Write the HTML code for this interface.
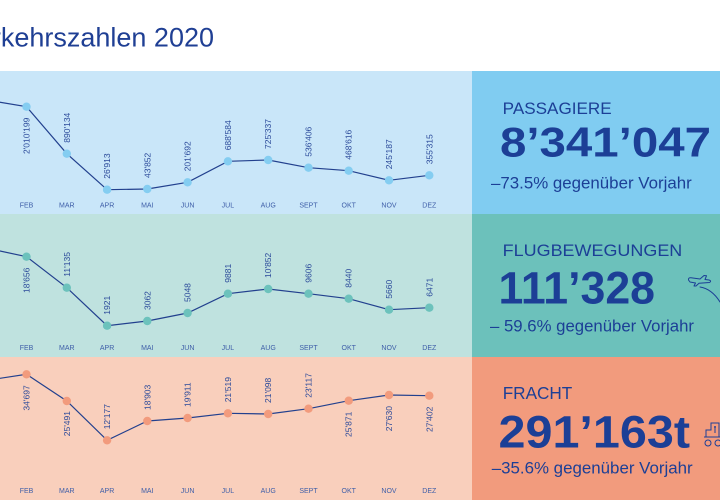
<!DOCTYPE html>
<html><head><meta charset="utf-8"><style>
html,body{margin:0;padding:0;background:#fff;}
svg{display:block;}
text{font-family:"Liberation Sans",sans-serif;}
.lb{font-size:8.5px;fill:#2b4a9a;}
.mo{font-size:7px;fill:#3e5ea8;text-anchor:middle;}
.ln{fill:none;stroke:#22408e;stroke-width:1.2;}
</style></head><body>
<svg width="720" height="500" viewBox="0 0 720 500" xmlns="http://www.w3.org/2000/svg">
<rect x="0" y="0" width="720" height="500" fill="#ffffff"/>
<text x="214" y="46.7" font-size="27" fill="#1f3f94" text-anchor="end">Verkehrszahlen 2020</text>

<!-- panels -->
<rect x="0" y="71" width="472" height="143" fill="#c9e6f9"/>
<rect x="472" y="71" width="248" height="143" fill="#80ccf1"/>
<rect x="0" y="214" width="472" height="143" fill="#bfe2df"/>
<rect x="472" y="214" width="248" height="143" fill="#6cc1bb"/>
<rect x="0" y="357" width="472" height="143" fill="#f9cfbc"/>
<rect x="472" y="357" width="248" height="143" fill="#f29b7d"/>

<!-- Panel 1 -->
<polyline class="ln" points="-13.8,100 26.5,106.7 66.8,153.7 107.1,189.7 147.3,189 187.6,182.3 227.9,161.3 268.2,160 308.5,167.7 348.7,170.7 389,180.3 429.3,175.3"/>
<g fill="#84cdf1">
<circle cx="26.5" cy="106.7" r="4.2"/><circle cx="66.8" cy="153.7" r="4.2"/><circle cx="107.1" cy="189.7" r="4.2"/><circle cx="147.3" cy="189" r="4.2"/><circle cx="187.6" cy="182.3" r="4.2"/><circle cx="227.9" cy="161.3" r="4.2"/><circle cx="268.2" cy="160" r="4.2"/><circle cx="308.5" cy="167.7" r="4.2"/><circle cx="348.7" cy="170.7" r="4.2"/><circle cx="389" cy="180.3" r="4.2"/><circle cx="429.3" cy="175.3" r="4.2"/>
</g>
<g class="lb">
<text transform="translate(29.5,117.7) rotate(-90)" text-anchor="end">2'010'199</text>
<text transform="translate(69.8,142.7) rotate(-90)">890'134</text>
<text transform="translate(110.1,178.7) rotate(-90)">26'913</text>
<text transform="translate(150.3,178) rotate(-90)">43'852</text>
<text transform="translate(190.6,171.3) rotate(-90)">201'692</text>
<text transform="translate(230.9,150.3) rotate(-90)">688'584</text>
<text transform="translate(271.2,149) rotate(-90)">725'337</text>
<text transform="translate(311.5,156.7) rotate(-90)">536'406</text>
<text transform="translate(351.7,159.7) rotate(-90)">468'616</text>
<text transform="translate(392,169.3) rotate(-90)">245'187</text>
<text transform="translate(432.3,164.3) rotate(-90)">355'315</text>
</g>
<g class="mo">
<text x="26.5" y="207.5">FEB</text><text x="66.8" y="207.5">MAR</text><text x="107.1" y="207.5">APR</text><text x="147.3" y="207.5">MAI</text><text x="187.6" y="207.5">JUN</text><text x="227.9" y="207.5">JUL</text><text x="268.2" y="207.5">AUG</text><text x="308.5" y="207.5">SEPT</text><text x="348.7" y="207.5">OKT</text><text x="389" y="207.5">NOV</text><text x="429.3" y="207.5">DEZ</text>
</g>

<!-- Panel 2 -->
<polyline class="ln" points="-13.8,248 26.5,256.7 66.8,287.7 107.1,325.7 147.3,321 187.6,313 227.9,293.7 268.2,289 308.5,293.7 348.7,298.7 389,309.7 429.3,307.7"/>
<g fill="#6cc2bc">
<circle cx="26.5" cy="256.7" r="4.2"/><circle cx="66.8" cy="287.7" r="4.2"/><circle cx="107.1" cy="325.7" r="4.2"/><circle cx="147.3" cy="321" r="4.2"/><circle cx="187.6" cy="313" r="4.2"/><circle cx="227.9" cy="293.7" r="4.2"/><circle cx="268.2" cy="289" r="4.2"/><circle cx="308.5" cy="293.7" r="4.2"/><circle cx="348.7" cy="298.7" r="4.2"/><circle cx="389" cy="309.7" r="4.2"/><circle cx="429.3" cy="307.7" r="4.2"/>
</g>
<g class="lb">
<text transform="translate(29.5,267.7) rotate(-90)" text-anchor="end">18'656</text>
<text transform="translate(69.8,276.7) rotate(-90)">11'135</text>
<text transform="translate(110.1,314.7) rotate(-90)">1921</text>
<text transform="translate(150.3,310) rotate(-90)">3062</text>
<text transform="translate(190.6,302) rotate(-90)">5048</text>
<text transform="translate(230.9,282.7) rotate(-90)">9881</text>
<text transform="translate(271.2,278) rotate(-90)">10'852</text>
<text transform="translate(311.5,282.7) rotate(-90)">9606</text>
<text transform="translate(351.7,287.7) rotate(-90)">8440</text>
<text transform="translate(392,298.7) rotate(-90)">5660</text>
<text transform="translate(432.3,296.7) rotate(-90)">6471</text>
</g>
<g class="mo">
<text x="26.5" y="350.2">FEB</text><text x="66.8" y="350.2">MAR</text><text x="107.1" y="350.2">APR</text><text x="147.3" y="350.2">MAI</text><text x="187.6" y="350.2">JUN</text><text x="227.9" y="350.2">JUL</text><text x="268.2" y="350.2">AUG</text><text x="308.5" y="350.2">SEPT</text><text x="348.7" y="350.2">OKT</text><text x="389" y="350.2">NOV</text><text x="429.3" y="350.2">DEZ</text>
</g>

<!-- Panel 3 -->
<polyline class="ln" points="-13.8,380.4 26.5,374.3 66.8,401 107.1,440.3 147.3,421 187.6,418 227.9,413.3 268.2,414 308.5,408.7 348.7,400.7 389,395 429.3,395.7"/>
<g fill="#f29b7d">
<circle cx="26.5" cy="374.3" r="4.2"/><circle cx="66.8" cy="401" r="4.2"/><circle cx="107.1" cy="440.3" r="4.2"/><circle cx="147.3" cy="421" r="4.2"/><circle cx="187.6" cy="418" r="4.2"/><circle cx="227.9" cy="413.3" r="4.2"/><circle cx="268.2" cy="414" r="4.2"/><circle cx="308.5" cy="408.7" r="4.2"/><circle cx="348.7" cy="400.7" r="4.2"/><circle cx="389" cy="395" r="4.2"/><circle cx="429.3" cy="395.7" r="4.2"/>
</g>
<g class="lb">
<text transform="translate(29.5,385.3) rotate(-90)" text-anchor="end">34'697</text>
<text transform="translate(69.8,411) rotate(-90)" text-anchor="end">25'491</text>
<text transform="translate(110.1,429.3) rotate(-90)">12'177</text>
<text transform="translate(150.3,410) rotate(-90)">18'903</text>
<text transform="translate(190.6,407) rotate(-90)">19'911</text>
<text transform="translate(230.9,402.3) rotate(-90)">21'519</text>
<text transform="translate(271.2,403) rotate(-90)">21'098</text>
<text transform="translate(311.5,397.7) rotate(-90)">23'117</text>
<text transform="translate(351.7,411.7) rotate(-90)" text-anchor="end">25'871</text>
<text transform="translate(392,406) rotate(-90)" text-anchor="end">27'630</text>
<text transform="translate(432.3,406.7) rotate(-90)" text-anchor="end">27'402</text>
</g>
<g class="mo">
<text x="26.5" y="493.2">FEB</text><text x="66.8" y="493.2">MAR</text><text x="107.1" y="493.2">APR</text><text x="147.3" y="493.2">MAI</text><text x="187.6" y="493.2">JUN</text><text x="227.9" y="493.2">JUL</text><text x="268.2" y="493.2">AUG</text><text x="308.5" y="493.2">SEPT</text><text x="348.7" y="493.2">OKT</text><text x="389" y="493.2">NOV</text><text x="429.3" y="493.2">DEZ</text>
</g>

<!-- Right boxes text -->
<g fill="#1c3f96">
<text x="502.7" y="114" font-size="17" textLength="109" lengthAdjust="spacingAndGlyphs">PASSAGIERE</text>
<text x="500" y="156.7" font-size="42" font-weight="bold" textLength="211" lengthAdjust="spacingAndGlyphs">8’341’047</text>
<text x="491" y="188.3" font-size="17" textLength="200.7" lengthAdjust="spacingAndGlyphs">–73.5% gegenüber Vorjahr</text>

<text x="502.7" y="256" font-size="16.5" textLength="179.6" lengthAdjust="spacingAndGlyphs">FLUGBEWEGUNGEN</text>
<text x="498.5" y="303.3" font-size="45" font-weight="bold" textLength="156.5" lengthAdjust="spacingAndGlyphs">111’328</text>
<text x="490" y="331.7" font-size="17" textLength="204" lengthAdjust="spacingAndGlyphs">– 59.6% gegenüber Vorjahr</text>

<text x="502.7" y="399" font-size="17.5" textLength="69.6" lengthAdjust="spacingAndGlyphs">FRACHT</text>
<text x="498.5" y="447.3" font-size="45" font-weight="bold" textLength="191.5" lengthAdjust="spacingAndGlyphs">291’163t</text>
<text x="491.7" y="473.3" font-size="17" textLength="201" lengthAdjust="spacingAndGlyphs">–35.6% gegenüber Vorjahr</text>
</g>

<!-- plane icon -->
<g fill="none" stroke="#1c3f96" stroke-width="1" stroke-linecap="round" stroke-linejoin="round">
<path d="M688.5,280 Q688,277.5 691,277.8 L700,279 L704,275.5 L706.5,275.8 L705,279.5 L709,280 Q712,281 709.5,282.5 L699,283.2 L696,286 L694,286 L695.5,283 L690,282 Z"/>
<path d="M700,287 Q712,289 720,302"/>
</g>
<!-- forklift icon -->
<g fill="none" stroke="#1c3f96" stroke-width="1">
<path d="M706,437 L706,430 L711,430 L711,423 L719,423 L719,437"/>
<path d="M704,437 L720,437"/>
<circle cx="708" cy="443" r="3"/><circle cx="718" cy="443" r="3"/>
<path d="M714,427 L716,427 M715,426 L715,433"/>
</g>
</svg>
</body></html>
